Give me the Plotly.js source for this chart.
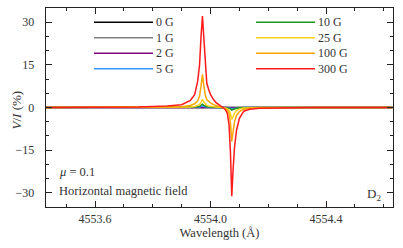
<!DOCTYPE html>
<html>
<head>
<meta charset="utf-8">
<script src="https://cdn.plot.ly/plotly-3.0.1.min.js"></script>
<style>
html,body{margin:0;padding:0;background:#fff;}
#chart{width:403px;height:248px;}
</style>
</head>
<body>
<div id="chart"></div>
<script>
// Wavelength grid (Å)
var wavelength = [4553.43, 4553.60, 4553.75, 4553.85, 4553.90, 4553.93, 4553.945, 4553.955, 4553.962, 4553.967,
  4553.972, 4553.977, 4553.982, 4553.987, 4553.993, 4554.000, 4554.010, 4554.020, 4554.030, 4554.040,
  4554.050, 4554.058, 4554.064, 4554.069, 4554.0735, 4554.078, 4554.083, 4554.090, 4554.100, 4554.115,
  4554.135, 4554.170, 4554.230, 4554.350, 4554.630];

// V/I (%) for each field strength
var v0G = [0,0,0,0,0,0,0,0,0,0,0,0,0,0,0,0,0,0,0,0,0,0,0,0,0,0,0,0,0,0,0,0,0,0,0];
var v1G = [0, 0, 0, 0.002, 0.003, 0.007, 0.013, 0.024, 0.04, 0.075, 0.12, 0.075, 0.045, 0.03, 0.022, 0.016, 0.01, 0.006, 0.003, 0,
  -0.005, -0.012, -0.025, -0.05, -0.09, -0.07, -0.045, -0.025, -0.012, -0.005, -0.002, 0, 0, 0, 0];
var v2G = [0, 0, 0.001, 0.003, 0.006, 0.014, 0.026, 0.048, 0.08, 0.15, 0.23, 0.15, 0.09, 0.06, 0.044, 0.032, 0.02, 0.012, 0.006, 0,
  -0.01, -0.024, -0.05, -0.1, -0.18, -0.14, -0.09, -0.05, -0.024, -0.01, -0.004, 0, 0, 0, 0];
var v5G = [0, 0.001, 0.003, 0.008, 0.015, 0.035, 0.065, 0.12, 0.2, 0.38, 0.58, 0.38, 0.22, 0.15, 0.11, 0.08, 0.05, 0.03, 0.015, 0,
  -0.025, -0.06, -0.13, -0.25, -0.45, -0.35, -0.22, -0.12, -0.06, -0.025, -0.01, 0, 0, 0, 0];
var v10G = [0, 0.002, 0.006, 0.016, 0.03, 0.07, 0.13, 0.24, 0.4, 0.75, 1.15, 0.75, 0.44, 0.3, 0.22, 0.16, 0.1, 0.06, 0.03, 0,
  -0.05, -0.12, -0.25, -0.5, -0.9, -0.7, -0.45, -0.25, -0.12, -0.05, -0.02, -0.01, 0, 0, 0];
var v25G = [0, 0.005, 0.015, 0.04, 0.08, 0.18, 0.33, 0.6, 1.0, 1.9, 2.9, 1.9, 1.1, 0.75, 0.55, 0.4, 0.25, 0.15, 0.07, 0.0,
  -0.15, -0.4, -1.0, -2.2, -4.2, -3.2, -2.0, -1.1, -0.5, -0.2, -0.08, -0.03, -0.01, 0, 0];
var v100G = [0, 0.02, 0.05, 0.15, 0.3, 0.7, 1.3, 2.3, 4.0, 7.5, 11.7, 7.5, 4.2, 2.8, 2.2, 1.6, 1.0, 0.6, 0.3, 0.05,
  -0.3, -0.9, -2.2, -5.5, -11.9, -8.5, -5.0, -2.8, -1.4, -0.6, -0.25, -0.1, -0.04, -0.01, 0];
var v300G = [0, 0.05, 0.15, 0.5, 1.0, 2.5, 4.5, 9.0, 15.0, 25.0, 32.2, 24.0, 14.0, 8.5, 6.5, 4.5, 2.8, 1.6, 0.9, 0.2,
  -0.6, -2.0, -6.0, -16.0, -31.2, -22.0, -14.0, -8.0, -3.8, -1.3, -0.6, -0.25, -0.1, -0.03, 0];

var seriesNames = ['0 G', '1 G', '2 G', '5 G', '10 G', '25 G', '100 G', '300 G'];
var seriesValues = [v0G, v1G, v2G, v5G, v10G, v25G, v100G, v300G];
var seriesColors = ['#000000', '#808080', '#800080', '#3399ff', '#1f961f', '#ffd21a', '#ffa500', '#ff1a1a'];

var xTickVals = [4553.6, 4554.0, 4554.4];
var yTickVals = [-30, -15, 0, 15, 30];

var FONT = "'Liberation Serif', 'DejaVu Serif', serif";
var TXT = '#333333';

var traces = seriesValues.map(function (vals, i) {
  return {
    x: wavelength, y: vals, type: 'scatter', mode: 'lines', name: seriesNames[i],
    line: {color: seriesColors[i], width: 1.5}, showlegend: false, hoverinfo: 'skip'
  };
});

// manual two-column legend (position in pixels converted to paper coords)
var plotL = 46, plotW = 347, plotT = 8, plotH = 199;
function px(x) { return (x - plotL) / plotW; }
function py(y) { return (plotT + plotH - y) / plotH; }
var rowsY = [22.3, 37.8, 53.3, 68.8];
var cols = [{x0: 94, x1: 153, lx: 155}, {x0: 256, x1: 315, lx: 317}];
var shapes = [], annotations = [];
seriesNames.forEach(function (nm, i) {
  var c = cols[Math.floor(i / 4)], r = rowsY[i % 4];
  shapes.push({type: 'line', xref: 'paper', yref: 'paper', x0: px(c.x0), x1: px(c.x1), y0: py(r), y1: py(r),
    line: {color: seriesColors[i], width: 1.5}});
  annotations.push({xref: 'paper', yref: 'paper', x: px(c.lx), y: py(r), text: nm, showarrow: false,
    xanchor: 'left', yanchor: 'middle', font: {family: FONT, size: 12, color: TXT}, borderpad: 0});
});
annotations.push({xref: 'paper', yref: 'paper', x: px(58), y: py(172.3), text: '<i>μ</i> = 0.1', showarrow: false,
  xanchor: 'left', yanchor: 'middle', font: {family: FONT, size: 12.5, color: TXT}, borderpad: 0});
annotations.push({xref: 'paper', yref: 'paper', x: px(58), y: py(190.7), text: 'Horizontal magnetic field', showarrow: false,
  xanchor: 'left', yanchor: 'middle', font: {family: FONT, size: 12.5, color: TXT}, borderpad: 0});
annotations.push({xref: 'paper', yref: 'paper', x: px(382), y: py(194.5), text: 'D<sub>2</sub>', showarrow: false,
  xanchor: 'right', yanchor: 'middle', font: {family: FONT, size: 13, color: TXT}, borderpad: 0});
// y-axis title placed as a rotated annotation to match the reference position
annotations.push({xref: 'paper', yref: 'paper', x: px(15.5), y: py(110), text: '<i>V</i>/<i>I</i> (%)', showarrow: false,
  textangle: -90, xanchor: 'center', yanchor: 'middle', font: {family: FONT, size: 13, color: TXT}, borderpad: 0});

var layout = {
  width: 403, height: 248,
  margin: {l: 46, r: 10, t: 8, b: 41},
  paper_bgcolor: '#ffffff', plot_bgcolor: '#ffffff',
  font: {family: FONT, size: 12, color: TXT},
  showlegend: false,
  xaxis: {
    range: [4553.43, 4554.632], tickvals: xTickVals, ticktext: xTickVals.map(function (v) { return v.toFixed(1); }),
    ticks: 'inside', ticklen: 6, tickwidth: 1, tickcolor: '#222',
    minor: {dtick: 0.1, tick0: 4553.6, ticks: 'inside', ticklen: 3, tickwidth: 1, tickcolor: '#222', showgrid: false},
    showline: true, linecolor: '#222', linewidth: 1.3, mirror: 'ticks',
    showgrid: false, zeroline: false, ticklabelstandoff: 0, automargin: false,
    tickfont: {family: FONT, size: 12, color: TXT},
    title: {text: 'Wavelength (Å)', font: {family: FONT, size: 12.5, color: TXT}, standoff: 3}
  },
  yaxis: {
    range: [-35, 35], tickvals: yTickVals,
    ticks: 'inside', ticklen: 6, tickwidth: 1, tickcolor: '#222',
    minor: {dtick: 5, tick0: 0, ticks: 'inside', ticklen: 3, tickwidth: 1, tickcolor: '#222', showgrid: false},
    showline: true, linecolor: '#222', linewidth: 1.3, mirror: 'ticks',
    showgrid: false, zeroline: false, ticklabelstandoff: 8, automargin: false,
    tickfont: {family: FONT, size: 12, color: TXT}
  },
  shapes: shapes,
  annotations: annotations
};

Plotly.newPlot('chart', traces, layout, {displayModeBar: false, staticPlot: true});
</script>
</body>
</html>
